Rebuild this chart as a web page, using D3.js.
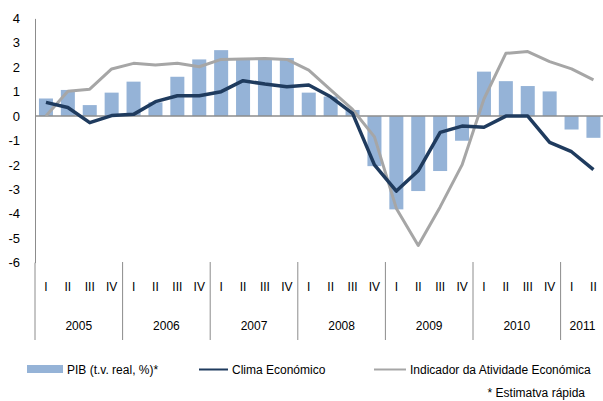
<!DOCTYPE html>
<meta charset="utf-8">
<script src="https://cdn.jsdelivr.net/npm/d3@7"></script>
<style>
body { margin: 0; background: #fff; }
text { font-family: "Liberation Sans", Arial, sans-serif; font-size: 12px; fill: #000; }
</style>
<body>
<script>
var width = 603, height = 401;

// quarters 2005 I .. 2011 II
var years = ["2005", "2006", "2007", "2008", "2009", "2010", "2011"];
var quarterNames = ["I", "II", "III", "IV"];
var yTicks = [4, 3, 2, 1, 0, -1, -2, -3, -4, -5, -6];

var pib = [0.72, 1.07, 0.45, 0.96, 1.41, 0.56, 1.61, 2.32,
           2.70, 2.30, 2.30, 2.38, 0.96, 0.80, 0.25, -2.05,
           -3.82, -3.07, -2.25, -1.01, 1.82, 1.43, 1.23, 1.01,
           -0.55, -0.89];
var clima = [0.56, 0.35, -0.27, 0.02, 0.07, 0.59, 0.83, 0.83,
             1.00, 1.45, 1.31, 1.20, 1.27, 0.79, 0.11, -2.00,
             -3.07, -2.24, -0.67, -0.41, -0.46, 0.00, 0.00, -1.08,
             -1.46, -2.19];
var indicador = [0.00, 1.02, 1.10, 1.93, 2.16, 2.09, 2.16, 2.02,
                 2.32, 2.34, 2.36, 2.32, 1.88, 1.07, 0.27, -0.85,
                 -3.78, -5.30, -3.72, -2.00, 0.70, 2.57, 2.64, 2.23,
                 1.93, 1.48];

var idx = d3.range(pib.length);

var svg = d3.select("body").append("svg")
    .attr("width", width)
    .attr("height", height);

var x = d3.scaleBand()
    .domain(idx)
    .range([35, 35 + 21.9 * pib.length])
    .paddingInner(0.36)
    .paddingOuter(0.18);

var y = d3.scaleLinear()
    .domain([-6, 4])
    .range([262.6, 18.4]);

var half = x.step() * x.paddingInner() / 2;
function cx(i) { return x(i) + x.bandwidth() / 2; }

// bars
svg.selectAll(".bar")
    .data(pib)
    .enter().append("rect")
    .attr("class", "bar")
    .attr("x", function(d, i) { return x(i); })
    .attr("y", function(d) { return y(Math.max(0, d)); })
    .attr("width", x.bandwidth())
    .attr("height", function(d) { return Math.abs(y(d) - y(0)); })
    .attr("fill", "#95b3d7");

// zero line
svg.append("line")
    .attr("x1", 35).attr("x2", width)
    .attr("y1", y(0)).attr("y2", y(0))
    .attr("stroke", "#8c8c8c")
    .attr("stroke-width", 1.5);

var line = d3.line()
    .x(function(d, i) { return cx(i); })
    .y(function(d) { return y(d); });

svg.append("path")
    .datum(indicador)
    .attr("d", line)
    .attr("fill", "none")
    .attr("stroke", "#a6a6a6")
    .attr("stroke-width", 3)
    .attr("stroke-linejoin", "round");

svg.append("path")
    .datum(clima)
    .attr("d", line)
    .attr("fill", "none")
    .attr("stroke", "#1f3b5e")
    .attr("stroke-width", 3.5)
    .attr("stroke-linejoin", "round");

// y axis
var yAxis = d3.axisLeft(y)
    .tickValues(yTicks)
    .tickSize(0)
    .tickPadding(15)
    .tickFormat(function(d) { return String(d); });

var gy = svg.append("g")
    .attr("transform", "translate(35,0)")
    .call(yAxis);
gy.select(".domain").attr("stroke", "#8c8c8c");
gy.selectAll("text").style("font-size", "13px").attr("fill", "#000");

// quarter labels
var xAxis = d3.axisBottom(x)
    .tickSize(0)
    .tickFormat(function(d) { return quarterNames[d % 4]; });

var gx = svg.append("g")
    .attr("transform", "translate(0,279)")
    .call(xAxis);
gx.select(".domain").remove();
gx.selectAll("text").attr("fill", "#000").style("font-size", "12px");

// year separators and labels
svg.selectAll(".sep")
    .data(years)
    .enter().append("line")
    .attr("class", "sep")
    .attr("x1", function(d, k) { return x(k * 4) - half; })
    .attr("x2", function(d, k) { return x(k * 4) - half; })
    .attr("y1", function(d, k) { return k == 0 ? y(-6) : 262; })
    .attr("y2", 340)
    .attr("stroke", "#8c8c8c")
    .attr("stroke-width", 1);

svg.selectAll(".year")
    .data(years)
    .enter().append("text")
    .attr("class", "year")
    .attr("x", function(d, k) {
        var last = Math.min(k * 4 + 3, pib.length - 1);
        var a = x(k * 4) - half, b = x(last) + x.bandwidth() + half;
        return (a + b) / 2;
    })
    .attr("y", 330)
    .attr("text-anchor", "middle")
    .text(function(d) { return d; });

// legend
svg.append("rect")
    .attr("x", 27).attr("y", 365)
    .attr("width", 36).attr("height", 8)
    .attr("fill", "#95b3d7");
svg.append("text").attr("x", 67).attr("y", 374).text("PIB (t.v. real, %)*");

svg.append("line")
    .attr("x1", 199).attr("x2", 228)
    .attr("y1", 369.5).attr("y2", 369.5)
    .attr("stroke", "#1f3b5e").attr("stroke-width", 2);
svg.append("text").attr("x", 232).attr("y", 374).text("Clima Económico");

svg.append("line")
    .attr("x1", 374).attr("x2", 406)
    .attr("y1", 369.5).attr("y2", 369.5)
    .attr("stroke", "#a6a6a6").attr("stroke-width", 2);
svg.append("text").attr("x", 410).attr("y", 374).text("Indicador da Atividade Económica");

svg.append("text")
    .attr("x", 585).attr("y", 397)
    .attr("text-anchor", "end")
    .text("* Estimatva rápida");
</script>
</body>
</html>
